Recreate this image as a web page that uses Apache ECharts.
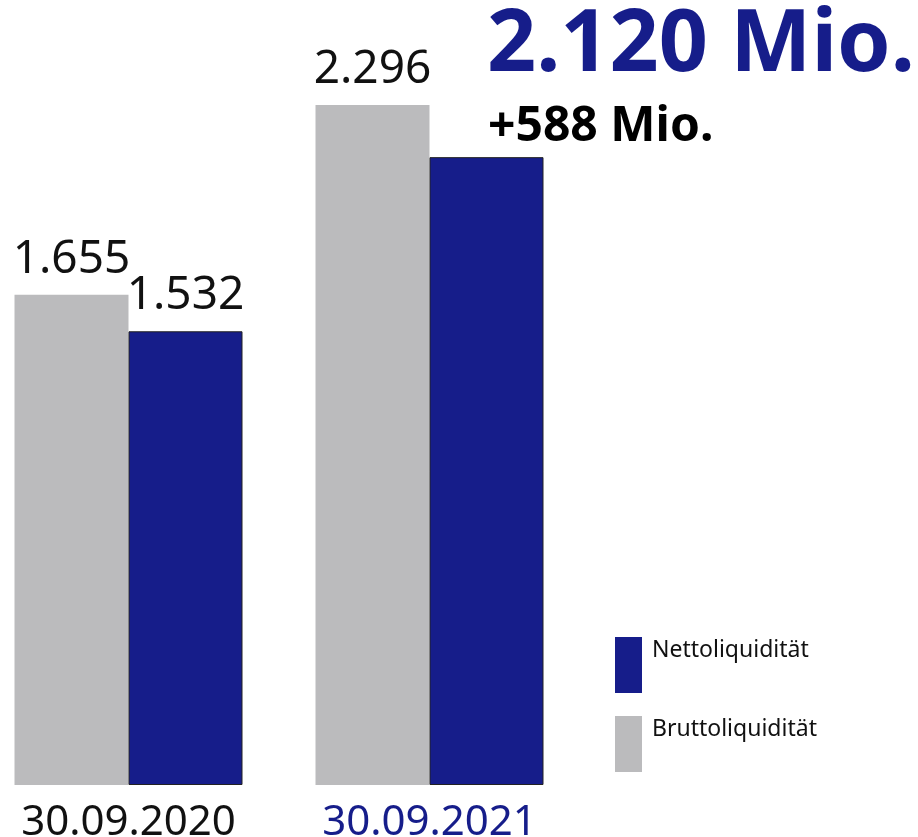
<!DOCTYPE html>
<html>
<head>
    <meta charset="utf-8" />
    <title>Liquidität</title>
    <script src="https://cdn.jsdelivr.net/npm/echarts@6/dist/echarts.min.js"></script>
    <style>
        html, body { margin: 0; padding: 0; background: #fff; }
    </style>
</head>
<body>
<div id="main" style="width:918px;height:837px;"></div>

<script type="text/javascript">
    // data
    var dates = ['30.09.2020', '30.09.2021'];
    var brutto = [1655, 2296];
    var netto = [1532, 2120];
    var nettoLabels = [true, false];   // 2021 netto value goes in the headline instead

    var grey = '#bbbbbd';
    var navy = '#161d8a';
    var font = '"Noto Sans", "Open Sans", sans-serif';

    // 1655 -> "1.655"
    function fmt(v) {
        return String(v).replace(/\B(?=(\d{3})+(?!\d))/g, '.');
    }

    var myChart = echarts.init(document.getElementById('main'));

    var option = {
        animation: false,
        textStyle: { fontFamily: font },
        title: [
            {
                text: fmt(netto[1]) + ' Mio.',
                left: 482, top: -2,
                textStyle: { color: navy, fontSize: 86, fontWeight: 'bold', fontFamily: font }
            },
            {
                text: '+' + fmt(netto[1] - netto[0]) + ' Mio.',
                left: 483, top: 98,
                textStyle: { color: '#000', fontSize: 48, fontWeight: 'bold', fontFamily: font }
            }
        ],
        legend: {
            orient: 'vertical',
            left: 610, top: 632,
            itemWidth: 27,
            itemHeight: 56,
            itemGap: 23,
            icon: 'rect',
            itemStyle: { borderWidth: 0 },
            data: ['Nettoliquidität', 'Bruttoliquidität'],
            // extra empty line pushes the name up to the top of the swatch
            formatter: function (name) { return '{t|' + name + '}\n{t| }'; },
            textStyle: {
                fontFamily: font,
                rich: { t: { fontSize: 23, lineHeight: 30, color: '#111', fontFamily: font, padding: [0, 0, 0, 5] } }
            }
        },
        grid: { left: -22, width: 602, top: 15, bottom: 52, outerBoundsMode: 'none', containLabel: false },
        xAxis: {
            type: 'category',
            data: dates,
            axisLine: { show: false },
            axisTick: { show: false },
            axisLabel: {
                fontSize: 42,
                margin: 17,
                fontFamily: font,
                color: function (val, idx) {
                    return idx === 1 ? navy : '#111';
                }
            }
        },
        yAxis: {
            type: 'value',
            min: 0, max: 2600,
            show: false,
            splitLine: { show: false }
        },
        series: [
            {
                name: 'Bruttoliquidität',
                type: 'bar',
                barWidth: 114,
                barGap: '0%',
                itemStyle: { color: grey },
                label: {
                    show: true, position: 'top', distance: 12,
                    fontSize: 46, color: '#111', fontFamily: font,
                    formatter: function (p) { return fmt(p.value); }
                },
                data: brutto
            },
            {
                name: 'Nettoliquidität',
                type: 'bar',
                barWidth: 114,
                itemStyle: { color: navy, borderColor: '#222', borderWidth: 1 },
                label: {
                    show: true, position: 'top', distance: 12,
                    fontSize: 46, color: '#111', fontFamily: font,
                    formatter: function (p) { return nettoLabels[p.dataIndex] ? fmt(p.value) : ''; }
                },
                data: netto
            }
        ]
    };

    myChart.setOption(option);
</script>
</body>
</html>
